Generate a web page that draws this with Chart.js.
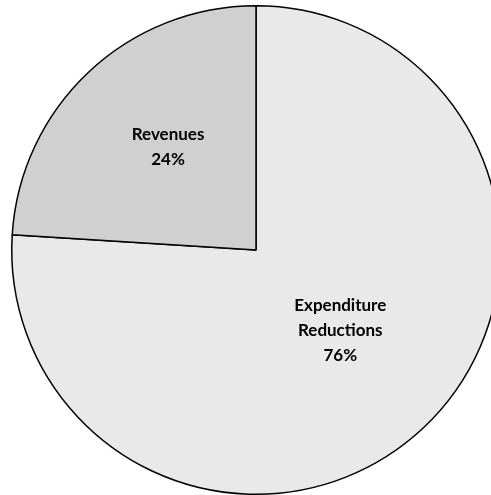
<!DOCTYPE html>
<html>
<head>
<meta charset="utf-8">
<script src="https://cdn.jsdelivr.net/npm/chart.js@4"></script>
<style>
  html, body { margin: 0; padding: 0; background: #fff; overflow: hidden; }
  #wrap { width: 491px; height: 495px; overflow: hidden; position: relative; }
  #pie { position: absolute; left: 0; top: 0; }
</style>
</head>
<body>
<div id="wrap"><canvas id="pie" width="512" height="500"></canvas></div>
<script>
const categories = [['Expenditure', 'Reductions'], ['Revenues']];
const shares = [76, 24];
const sliceColors = ['#e9e9e9', '#d0d0d0'];
const labelDepth = [0.48, 0.55];

// labels drawn inside each slice, Excel style
const sliceLabels = {
    id: 'sliceLabels',
    afterDatasetsDraw(chart) {
        const ctx = chart.ctx;
        const meta = chart.getDatasetMeta(0);
        ctx.save();
        ctx.font = 'bold 17px Lato, "DejaVu Sans", sans-serif';
        ctx.fillStyle = '#000';
        ctx.textAlign = 'center';
        ctx.textBaseline = 'middle';
        meta.data.forEach((arc, i) => {
            const p = arc.getProps(['x', 'y', 'startAngle', 'endAngle', 'outerRadius'], true);
            const mid = (p.startAngle + p.endAngle) / 2;
            const r = p.outerRadius * labelDepth[i];
            const cx = p.x + Math.cos(mid) * r + 4;
            const cy = p.y + Math.sin(mid) * r - 5;
            const lines = categories[i].concat([shares[i] + '%']);
            const lh = 25;
            lines.forEach((t, j) => {
                ctx.fillText(t, cx, cy + (j - (lines.length - 1) / 2) * lh);
            });
        });
        ctx.restore();
    }
};

const ctx = document.getElementById('pie').getContext('2d');
const myChart = new Chart(ctx, {
    type: 'pie',
    data: {
        labels: categories.map(c => c.join(' ')),
        datasets: [{
            data: shares,
            backgroundColor: sliceColors,
            borderColor: '#000',
            borderWidth: 1.5
        }]
    },
    options: {
        responsive: false,
        animation: false,
        layout: { padding: 5 },
        plugins: {
            legend: { display: false },
            tooltip: { enabled: false }
        }
    },
    plugins: [sliceLabels]
});
</script>
</body>
</html>
